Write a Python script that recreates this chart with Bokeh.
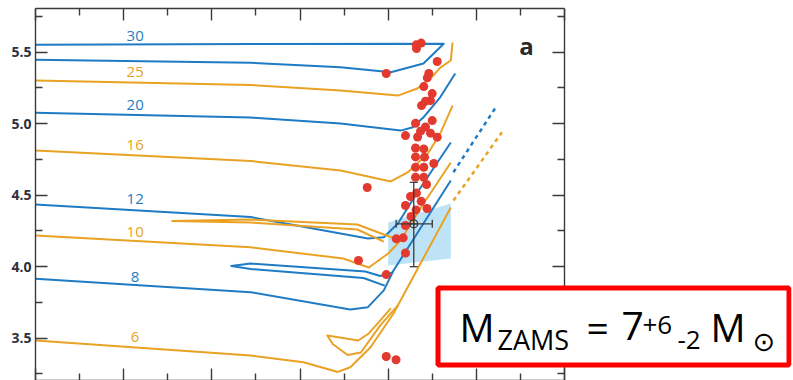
import math
from bokeh.plotting import figure
from bokeh.models import (Range1d, FixedTicker, LinearAxis, PrintfTickFormatter,
                          CustomJSTickFormatter, BoxAnnotation, Label, ColumnDataSource)
from bokeh.core.properties import value
from bokeh.embed import file_html
from bokeh.resources import INLINE

BLUE = "#1f7cc4"
ORANGE = "#e9a224"
RED = "#e23a2e"
SHADE = "#bfe3f6"
AX = "#3a3a3a"

# ---------------- data (x: arbitrary temperature units, y: log L) ----------------
t30_x = [0.00, 2.44, 4.63, 4.40, 4.03, 3.46, 2.44, 0.00]
t30_y = [5.552, 5.557, 5.559, 5.421, 5.360, 5.395, 5.426, 5.447]

t25_x = [0.00, 2.44, 3.46, 4.11, 4.33, 4.48, 4.59, 4.71, 4.73]
t25_y = [5.302, 5.271, 5.232, 5.197, 5.246, 5.316, 5.393, 5.442, 5.568]

t20_x = [0.00, 2.44, 3.46, 4.14, 4.28, 4.40, 4.59, 4.76]
t20_y = [5.076, 5.043, 5.001, 4.952, 4.975, 5.045, 5.185, 5.351]

t16_x = [0.00, 2.44, 3.46, 4.03, 4.22, 4.45, 4.59, 4.73]
t16_y = [4.813, 4.739, 4.673, 4.596, 4.659, 4.792, 4.931, 5.127]

t12_x = [0.00, 2.44, 3.77, 3.95, 4.11, 4.33, 4.71]
t12_y = [4.435, 4.347, 4.197, 4.206, 4.302, 4.519, 4.869]

t10_x = [0.00, 2.44, 3.49, 3.78, 4.00, 4.14, 4.40, 4.50, 4.71]
t10_y = [4.218, 4.136, 4.057, 3.994, 4.092, 4.183, 4.442, 4.533, 4.729]

loop10_x = [3.95, 3.65, 2.44, 1.55, 2.44, 3.65, 3.95, 4.14]
loop10_y = [4.176, 4.260, 4.309, 4.320, 4.330, 4.295, 4.225, 4.183]

t8_x = [0.00, 2.44, 3.57, 3.77, 3.95, 4.06, 4.71]
t8_y = [3.915, 3.822, 3.701, 3.717, 3.834, 3.973, 4.603]

loop8_x = [4.05, 3.91, 3.74, 2.44, 2.22, 2.44, 3.72, 3.96]
loop8_y = [3.959, 3.935, 3.966, 4.022, 4.005, 3.984, 3.921, 3.868]

t6_x = [0.00, 2.44, 3.04, 3.43, 3.57, 3.80, 4.06, 4.71]
t6_y = [3.484, 3.379, 3.332, 3.264, 3.297, 3.437, 3.673, 4.414]

loop6_x = [4.11, 3.91, 3.69, 3.54, 3.37, 3.31, 3.66, 3.78, 4.03]
loop6_y = [3.729, 3.589, 3.400, 3.382, 3.459, 3.519, 3.484, 3.533, 3.708]

zams_blue_x = [4.74, 5.22]
zams_blue_y = [4.661, 5.115]
zams_orange_x = [4.74, 5.29]
zams_orange_y = [4.463, 4.940]

region_x = [4.00, 4.71, 4.71, 4.00]
region_y = [4.309, 4.442, 4.057, 4.008]

star_x = [4.318, 4.374, 4.321, 4.556, 3.978, 4.461, 4.443, 4.404, 4.499, 4.480,
          4.423, 4.378, 4.310, 4.499, 4.423, 4.367, 4.480, 4.556, 4.196, 4.333,
          4.310, 4.404, 4.310, 4.412, 4.517, 4.310, 4.404, 4.310, 4.404, 4.435,
          3.762, 4.253, 4.321, 4.196, 4.374, 4.440, 4.316, 4.259, 4.196, 4.091,
          4.170, 4.196, 3.663, 3.978, 3.978, 4.089]
star_y = [5.552, 5.564, 5.526, 5.435, 5.351, 5.351, 5.321, 5.260, 5.211, 5.162,
          5.157, 5.127, 5.003, 5.022, 4.977, 4.948, 4.934, 4.906, 4.917, 4.907,
          4.830, 4.824, 4.768, 4.766, 4.722, 4.696, 4.696, 4.626, 4.626, 4.575,
          4.554, 4.491, 4.515, 4.428, 4.458, 4.407, 4.397, 4.351, 4.288, 4.195,
          4.202, 4.096, 4.043, 3.945, 3.372, 3.349]

err_x, err_x_lo, err_x_hi = 4.29, 4.09, 4.50
err_y, err_y_lo, err_y_hi = 4.30, 4.00, 4.59

mass_labels = ["30", "25", "20", "16", "12", "10", "8", "6"]
mass_label_x = [1.13] * 8
mass_label_y = [5.617, 5.360, 5.132, 4.848, 4.475, 4.241, 3.931, 3.507]
mass_label_color = [BLUE, ORANGE, BLUE, ORANGE, BLUE, ORANGE, BLUE, ORANGE]

y_major = [3.5, 4.0, 4.5, 5.0, 5.5]
y_minor = [3.25, 3.75, 4.25, 4.75, 5.25, 5.75]
x_major = [0, 1, 2, 3, 4, 5, 6]
x_minor = [0.5, 1.5, 2.5, 3.5, 4.5, 5.5]
x_axis_end = 6
x_view_end = 8.574   # the frame continues to the right of the plotted panel (under the result box)

# ---------------- figure ----------------
p = figure(width=793, height=380, x_range=Range1d(0, x_view_end), y_range=Range1d(3.204, 5.806),
           output_backend="svg", toolbar_location=None,
           x_axis_location=None, y_axis_location=None,
           min_border_left=35, min_border_right=2, min_border_top=8, min_border_bottom=0)
p.outline_line_color = None
p.grid.grid_line_color = None
p.background_fill_color = "white"
p.border_fill_color = "white"


def make_axis(ticks, minor, labels):
    ax = LinearAxis(ticker=FixedTicker(ticks=ticks, minor_ticks=minor))
    ax.axis_line_color = AX
    ax.axis_line_width = 1.4
    ax.major_tick_line_color = AX
    ax.minor_tick_line_color = AX
    ax.major_tick_line_width = 1.4
    ax.minor_tick_line_width = 1.4
    ax.major_tick_in = 12
    ax.major_tick_out = 0
    ax.minor_tick_in = 7
    ax.minor_tick_out = 0
    if labels:
        ax.formatter = PrintfTickFormatter(format="%.1f")
        ax.major_label_text_font = "Open Sans"
        ax.major_label_text_font_style = "bold"
        ax.major_label_text_font_size = "14px"
        ax.major_label_text_color = "#30303e"
        ax.major_label_standoff = 4
    else:
        ax.formatter = CustomJSTickFormatter(code="return ''")
        ax.major_label_text_font_size = "1px"
        ax.major_label_standoff = 0
    return ax


p.add_layout(make_axis(y_major, y_minor, True), "left")
right_ax = make_axis(y_major, y_minor, False)
right_ax.fixed_location = x_axis_end
p.add_layout(right_ax, "right")
top_ax = make_axis(x_major, x_minor, False)
top_ax.bounds = (0, x_axis_end)
p.add_layout(top_ax, "above")
bot_ax = make_axis(x_major, x_minor, False)
bot_ax.bounds = (0, x_axis_end)
p.add_layout(bot_ax, "below")

# shaded region
p.patch(region_x, region_y, fill_color=SHADE, line_color=None)

# tracks
for xs, ys, c in [(t30_x, t30_y, BLUE), (t25_x, t25_y, ORANGE), (t20_x, t20_y, BLUE),
                  (t16_x, t16_y, ORANGE), (t12_x, t12_y, BLUE), (loop10_x, loop10_y, ORANGE),
                  (t10_x, t10_y, ORANGE), (loop8_x, loop8_y, BLUE), (t8_x, t8_y, BLUE),
                  (loop6_x, loop6_y, ORANGE), (t6_x, t6_y, ORANGE)]:
    p.line(xs, ys, line_color=c, line_width=2, line_join="round")

p.line(zams_blue_x, zams_blue_y, line_color=BLUE, line_width=2.5, line_dash="4 4")
p.line(zams_orange_x, zams_orange_y, line_color=ORANGE, line_width=2.5, line_dash="4 4")

# stars
p.scatter(star_x, star_y, size=9, fill_color=RED, line_color=None)

# error bar
p.segment(x0=[err_x_lo], y0=[err_y], x1=[err_x_hi], y1=[err_y], line_color=AX, line_width=1.3)
p.segment(x0=[err_x], y0=[err_y_lo], x1=[err_x], y1=[err_y_hi], line_color=AX, line_width=1.3)
p.scatter([err_x, err_x], [err_y_lo, err_y_hi], marker="dash", size=8, line_color=AX, line_width=1.3)
p.scatter([err_x_lo, err_x_hi], [err_y, err_y], marker="dash", size=8, angle=math.pi / 2,
          line_color=AX, line_width=1.3)
p.scatter([err_x], [err_y], marker="circle_cross", size=8, fill_color=None,
          line_color=AX, line_width=1.3)

# mass labels
src = ColumnDataSource(dict(x=mass_label_x, y=mass_label_y, t=mass_labels, c=mass_label_color))
p.text(x="x", y="y", text="t", text_color="c", source=src, text_font=value("Open Sans"),
       text_font_size="15px", text_align="center", text_baseline="middle")

# panel letter
p.text(x=[5.569], y=[5.547], text=["a"], text_font=value("Open Sans"), text_font_style="bold",
       text_font_size="24px", text_color="#2a2a2a", text_align="center", text_baseline="middle")

# red result box
box = BoxAnnotation(left=402.5, right=753.5, bottom=15.5, top=92.5,
                    left_units="screen", right_units="screen",
                    top_units="screen", bottom_units="screen",
                    fill_color="white", fill_alpha=1.0, line_color="#ff0000",
                    line_alpha=1.0, line_width=5)
p.add_layout(box)

FONT = "Open Sans"
parts = [("M", 424, 54.3, "39px"), ("ZAMS", 462, 41.3, "27px"), ("=", 551, 54.3, "39px"),
         ("7", 586, 54.3, "39px"), ("+6", 607, 55.8, "26px"), ("-2", 642, 40.8, "26px"),
         ("M", 675, 54.3, "39px")]
for txt, sx, sy, fs in parts:
    p.add_layout(Label(x=sx, y=sy, x_units="screen", y_units="screen", text=txt,
                       text_font=FONT, text_font_size=fs, text_color="black",
                       text_align="left", text_baseline="alphabetic", level="overlay"))
p.add_layout(Label(x=728.5, y=39, x_units="screen", y_units="screen", text="\u2299",
                   text_font="DejaVu Sans", text_font_size="27px", text_color="black",
                   text_align="center", text_baseline="middle", level="overlay"))

open("out.html", "w").write(file_html(p, INLINE))
